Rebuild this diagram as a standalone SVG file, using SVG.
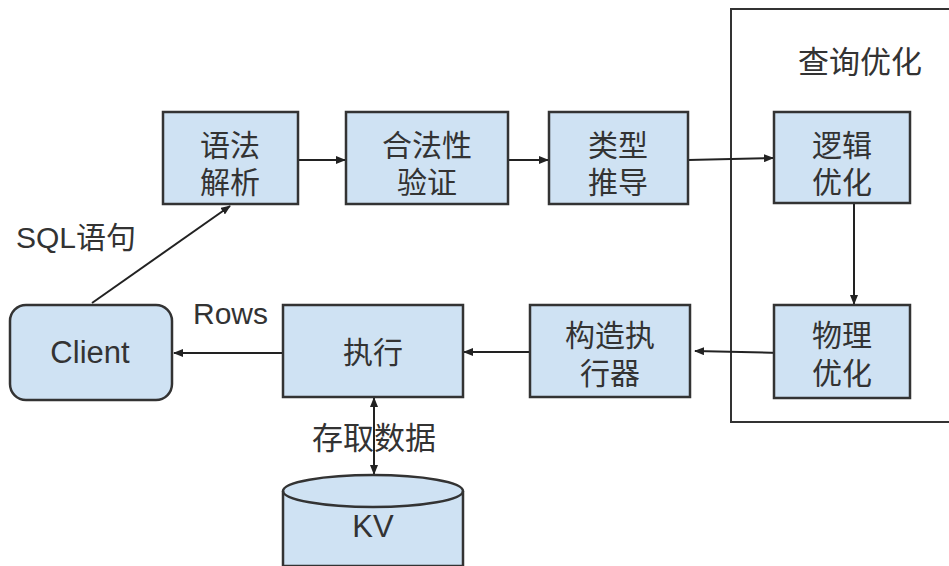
<svg xmlns="http://www.w3.org/2000/svg" width="949" height="566" viewBox="0 0 949 566">
<defs>
<marker id="ah" markerWidth="10" markerHeight="8" refX="9" refY="4" orient="auto" markerUnits="userSpaceOnUse">
<path d="M0,0 L10,4 L0,8 Z" fill="#222"/>
</marker>
<marker id="ahs" markerWidth="10" markerHeight="8" refX="1" refY="4" orient="auto" markerUnits="userSpaceOnUse">
<path d="M10,0 L0,4 L10,8 Z" fill="#222"/>
</marker>
<style>
.box{fill:#cfe2f3;stroke:#333;stroke-width:2.5}
.t{font-family:"Liberation Sans","Noto Sans CJK SC",sans-serif;font-size:30px;fill:#333;text-anchor:middle}
.lbl{font-family:"Liberation Sans","Noto Sans CJK SC",sans-serif;font-size:30px;fill:#333}
.c{fill:none;stroke:#222;stroke-width:2}
</style>
</defs>
<rect width="949" height="566" fill="#fff"/>
<g id="group-opt">
<rect x="731" y="9" width="230" height="413" fill="none" stroke="#333" stroke-width="2"/>
<text class="t" x="860" y="73" style="font-size:31px">查询优化</text>
</g>
<g id="connectors">
<line class="c" x1="92" y1="303" x2="230" y2="206" marker-end="url(#ah)"/>
<line class="c" x1="298" y1="160" x2="345" y2="160" marker-end="url(#ah)"/>
<line class="c" x1="508" y1="160" x2="548" y2="160" marker-end="url(#ah)"/>
<line class="c" x1="688" y1="160" x2="773" y2="158" marker-end="url(#ah)"/>
<line class="c" x1="854" y1="203" x2="854" y2="304" marker-end="url(#ah)"/>
<line class="c" x1="780" y1="353" x2="695" y2="351" marker-end="url(#ah)"/>
<line class="c" x1="530" y1="352" x2="464" y2="352" marker-end="url(#ah)"/>
<line class="c" x1="283" y1="353" x2="174" y2="353" marker-end="url(#ah)"/>
<line class="c" x1="374" y1="398" x2="374" y2="474" marker-start="url(#ahs)" marker-end="url(#ah)"/>
<text class="lbl" x="16" y="248" style="font-size:30px">SQL语句</text>
<text class="lbl" x="193" y="324" style="font-size:30px">Rows</text>
<text class="lbl" x="312" y="449" style="font-size:31px">存取数据</text>
</g>
<g id="client">
<rect class="box" x="10" y="305" width="162" height="95" rx="16"/>
<text class="t" x="90" y="363" style="font-size:31px">Client</text>
</g>
<g id="parse">
<rect class="box" x="163" y="112" width="135" height="92"/>
<text class="t" x="230" y="156">语法</text>
<text class="t" x="230" y="193">解析</text>
</g>
<g id="validate">
<rect class="box" x="346" y="112" width="162" height="92"/>
<text class="t" x="427" y="156">合法性</text>
<text class="t" x="427" y="193">验证</text>
</g>
<g id="typecheck">
<rect class="box" x="549" y="112" width="139" height="92"/>
<text class="t" x="618" y="156">类型</text>
<text class="t" x="618" y="193">推导</text>
</g>
<g id="logical">
<rect class="box" x="774" y="112" width="136" height="91"/>
<text class="t" x="842" y="156">逻辑</text>
<text class="t" x="842" y="193">优化</text>
</g>
<g id="physical">
<rect class="box" x="774" y="305" width="136" height="93"/>
<text class="t" x="842" y="346">物理</text>
<text class="t" x="842" y="384">优化</text>
</g>
<g id="build">
<rect class="box" x="530" y="305" width="160" height="92"/>
<text class="t" x="610" y="346">构造执</text>
<text class="t" x="610" y="384">行器</text>
</g>
<g id="exec">
<rect class="box" x="283" y="305" width="180" height="92"/>
<text class="t" x="373" y="363">执行</text>
</g>
<g id="kv">
<path class="box" d="M283,491 L283,566 L463,566 L463,491 A90,16 0 0 0 283,491 Z"/>
<path d="M283,491 A90,16 0 0 0 463,491" fill="none" stroke="#333" stroke-width="2.5"/>
<text class="t" x="373" y="537" style="font-size:31px">KV</text>
</g>
</svg>
